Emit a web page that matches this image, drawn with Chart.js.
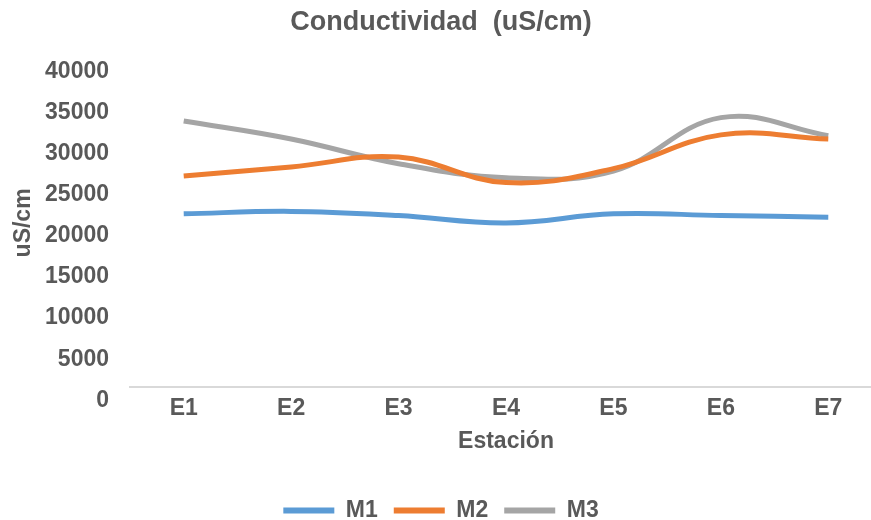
<!DOCTYPE html>
<html>
<head>
<meta charset="utf-8">
<script src="https://cdn.jsdelivr.net/npm/chart.js@4.4.1/dist/chart.umd.min.js"></script>
<style>
  body { margin: 0; background: #fff; overflow: hidden; }
</style>
</head>
<body>
<!-- the plot runs past the right edge in the reference, so the canvas is a bit wider than the window -->
<canvas id="myChart" width="882" height="520"></canvas>
<script>
var estaciones = ["E1", "E2", "E3", "E4", "E5", "E6", "E7"];
var m1 = [21100, 21400, 20900, 20000, 21100, 20900, 20700];
var m2 = [25700, 26800, 28000, 24900, 26600, 30700, 30200];
var m3 = [32400, 30200, 27200, 25500, 26300, 32800, 30600];
var yMax = 40000;
var yStep = 5000;

var fontFam = 'Arial, "Liberation Sans", sans-serif';
var grey = '#595959';
var serieColours = { "M1": "#5B9BD5", "M2": "#ED7D31", "M3": "#A5A5A5" };

function serie(label, data) {
    return {
        label: label,
        data: data,
        borderColor: serieColours[label],
        backgroundColor: serieColours[label],
        borderWidth: 5,
        pointRadius: 0,
        tension: 0.4,
        fill: false
    };
}

var ctx = document.getElementById('myChart').getContext('2d');
var myChart = new Chart(ctx, {
    type: 'line',
    data: {
        labels: estaciones,
        datasets: [serie("M1", m1), serie("M2", m2), serie("M3", m3)]
    },
    options: {
        responsive: false,
        animation: false,
        layout: { padding: { left: 0, right: 0, top: 0, bottom: -12 } },
        plugins: {
            title: {
                display: true,
                text: 'Conductividad  (uS/cm)',
                color: grey,
                font: { family: fontFam, size: 27, weight: 'bold' },
                padding: { top: 6, bottom: 20 }
            },
            legend: {
                position: 'bottom',
                labels: {
                    boxWidth: 51,
                    boxHeight: 6,
                    padding: 16,
                    color: grey,
                    font: { family: fontFam, size: 23, weight: 'bold' },
                    generateLabels: function (chart) {
                        return chart.data.datasets.map(function (ds, i) {
                            return {
                                text: ds.label,
                                fillStyle: ds.borderColor,
                                strokeStyle: ds.borderColor,
                                lineWidth: 0,
                                hidden: false,
                                datasetIndex: i,
                                fontColor: grey
                            };
                        });
                    }
                }
            },
            tooltip: { enabled: false }
        },
        scales: {
            x: {
                offset: true,
                grid: { display: false, drawTicks: false, offset: true },
                border: { display: true, color: '#D9D9D9', width: 2 },
                ticks: {
                    color: grey,
                    padding: 7,
                    font: { family: fontFam, size: 23, weight: 'bold' }
                },
                title: {
                    display: true,
                    text: 'Estación',
                    color: grey,
                    font: { family: fontFam, size: 23, weight: 'bold', lineHeight: 1 },
                    padding: { top: 1, bottom: 30 }
                }
            },
            y: {
                min: 0,
                max: yMax,
                grid: { display: false, drawTicks: false },
                border: { display: false },
                ticks: {
                    stepSize: yStep,
                    color: grey,
                    padding: 21,
                    labelOffset: 13,
                    font: { family: fontFam, size: 23, weight: 'bold' },
                    callback: function (v) { return String(v); }
                },
                title: {
                    display: true,
                    text: 'uS/cm',
                    color: grey,
                    font: { family: fontFam, size: 23, weight: 'bold' },
                    padding: { top: 10, bottom: 0 }
                },
                afterFit: function (scale) { scale.width = 130; }
            }
        }
    }
});
</script>
</body>
</html>
